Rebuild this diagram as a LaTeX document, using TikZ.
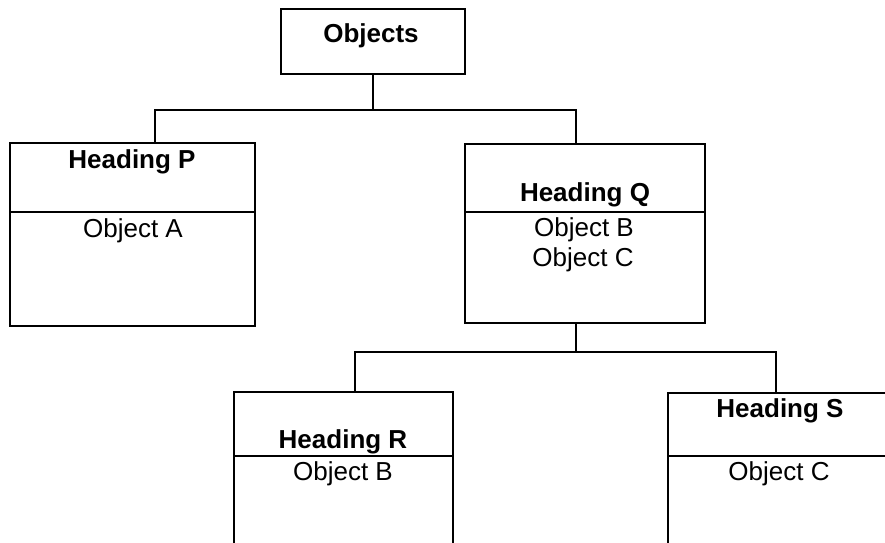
\documentclass[tikz,border=0pt]{standalone}
\usepackage{fontspec}
\setmainfont{Liberation Sans}
\usepackage{tikz}
\usetikzlibrary{positioning}

\begin{document}
\begin{tikzpicture}[x=1pt, y=-1pt,
  box/.style={draw, line width=1.6pt, inner sep=0pt, outer sep=0pt},
  headtext/.style={anchor=base, inner sep=0pt, font=\fontsize{26}{30}\selectfont\bfseries},
  objtext/.style={anchor=base, inner sep=0pt, font=\fontsize{26}{30}\selectfont},
  link/.style={line width=1.4pt}]
% Fix the page to the size of the picture
\clip (0, 0) rectangle (885, 542);
% Draw the top box
\node[box, minimum width=184, minimum height=65, anchor=north west] (objects) at (281, 9) {};
\node[headtext] (objectsT) at (371, 42) {Objects};
% Draw box P, head part and body part
\node[box, minimum width=245, minimum height=69, anchor=north west] (pH) at (10, 143) {};
\node[box, minimum width=245, minimum height=114, below=0pt of pH] (pB) {};
\node[headtext] (pT) at (132, 168) {Heading P};
\node[objtext] (pA) at (133, 237) {Object A};
% Draw box Q, head part and body part
\node[box, minimum width=240, minimum height=68, anchor=north west] (qH) at (465, 144) {};
\node[box, minimum width=240, minimum height=111, below=0pt of qH] (qB) {};
\node[headtext] (qT) at (585, 201) {Heading Q};
\node[objtext] (qB1) at (584, 236) {Object B};
\node[objtext] (qC1) at (583, 266) {Object C};
% Draw box R, running off the bottom
\node[box, minimum width=219, minimum height=64, anchor=north west] (rH) at (234, 392) {};
\node[box, minimum width=219, minimum height=100, below=0pt of rH] (rB) {};
\node[headtext] (rT) at (343, 448) {Heading R};
\node[objtext] (rB1) at (343, 480) {Object B};
% Draw box S, running off the bottom and the right
\node[box, minimum width=240, minimum height=63, anchor=north west] (sH) at (668, 393) {};
\node[box, minimum width=240, minimum height=100, below=0pt of sH] (sB) {};
\node[headtext] (sT) at (780, 417) {Heading S};
\node[objtext] (sC1) at (779, 480) {Object C};
% Connect the top box to P and Q
\coordinate (j1) at (373, 110);
\draw[link] (objects.south) -- (j1);
\draw[link] ([xshift=22.5pt]pH.north) |- (j1) -| ([xshift=-9pt]qH.north);
% Connect Q to R and S
\coordinate (j2) at (576, 352);
\draw[link] ([xshift=-9pt]qB.south) -- (j2);
\draw[link] ([xshift=11.5pt]rH.north) |- (j2) -| ([xshift=-12pt]sH.north);
\end{tikzpicture}
\end{document}
